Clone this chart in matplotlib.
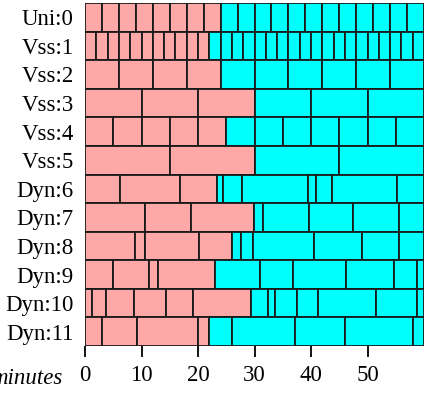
import matplotlib
matplotlib.use("Agg")
import matplotlib.pyplot as plt

# Row labels (top to bottom)
labels = ["Uni:0", "Vss:1", "Vss:2", "Vss:3", "Vss:4", "Vss:5",
          "Dyn:6", "Dyn:7", "Dyn:8", "Dyn:9", "Dyn:10", "Dyn:11"]

# Segment boundaries (minutes) for the pink part of each row
pink_bounds = [
    [0, 3, 6, 9, 12, 15, 18, 21, 24],
    [0, 2, 4, 6, 8, 10, 12, 14, 16, 18, 20, 22],
    [0, 6, 12, 18, 24],
    [0, 10, 20, 30],
    [0, 5, 10, 15, 20, 25],
    [0, 15, 30],
    [0, 6.2, 16.8, 23.3],
    [0, 10.6, 18.8, 29.9],
    [0, 8.8, 10.7, 20.2, 26.1],
    [0, 5.0, 11.4, 12.9, 23.0],
    [0, 1.3, 3.8, 8.6, 14.3, 19.2, 29.3],
    [0, 3.0, 9.2, 20.0, 21.9],
]

# Segment boundaries (minutes) for the cyan part of each row
cyan_bounds = [
    [24, 27, 30, 33, 36, 39, 42, 45, 48, 51, 54, 57, 60],
    [22, 24, 26, 28, 30, 32, 34, 36, 38, 40, 42, 44, 46, 48, 50, 52, 54, 56, 58, 60],
    [24, 30, 36, 42, 48, 54, 60],
    [30, 40, 50, 60],
    [25, 30, 35, 40, 45, 50, 55, 60],
    [30, 45, 60],
    [23.3, 24.5, 27.8, 39.4, 40.9, 43.7, 55.3, 60],
    [29.9, 31.5, 39.7, 47.5, 55.6, 60],
    [26.1, 27.6, 29.7, 40.6, 49.0, 55.5, 60],
    [23.0, 31.0, 36.9, 46.2, 54.7, 58.8, 60],
    [29.3, 32.4, 33.7, 37.6, 41.2, 51.5, 58.8, 60],
    [21.9, 26.0, 37.1, 46.1, 58.0, 60],
]

PINK = "#ffa8a8"
CYAN = "#00ffff"

plt.rcParams["font.family"] = ["Liberation Serif", "DejaVu Serif"]

fig = plt.figure(figsize=(4.29, 3.94), dpi=100)
ax = fig.add_axes([85 / 429, 1 - 346 / 394, (424 - 85) / 429, (346 - 3) / 394])

for i, (pb, cb) in enumerate(zip(pink_bounds, cyan_bounds)):
    for bounds, color in ((pb, PINK), (cb, CYAN)):
        lefts = bounds[:-1]
        widths = [b - a for a, b in zip(bounds[:-1], bounds[1:])]
        ax.barh([i] * len(lefts), widths, left=lefts, height=1.0,
                color=color, edgecolor="#1a1a1a", linewidth=1.3)

ax.set_xlim(0, 60)
ax.set_ylim(len(labels) - 0.5, -0.5)
ax.set_yticks(range(len(labels)))
ax.set_yticklabels(labels, fontsize=16.5)
ax.set_xticks([0, 10, 20, 30, 40, 50])
ax.tick_params(axis="y", length=0, pad=8)
ax.tick_params(axis="x", length=8, width=1.3, labelsize=16.5, pad=6)
for s in ax.spines.values():
    s.set_visible(False)

fig.text(62 / 429, 1 - 378 / 394, "minutes", ha="right", va="center",
         fontsize=16.5, style="italic")

fig.savefig("out.png", dpi=100)
